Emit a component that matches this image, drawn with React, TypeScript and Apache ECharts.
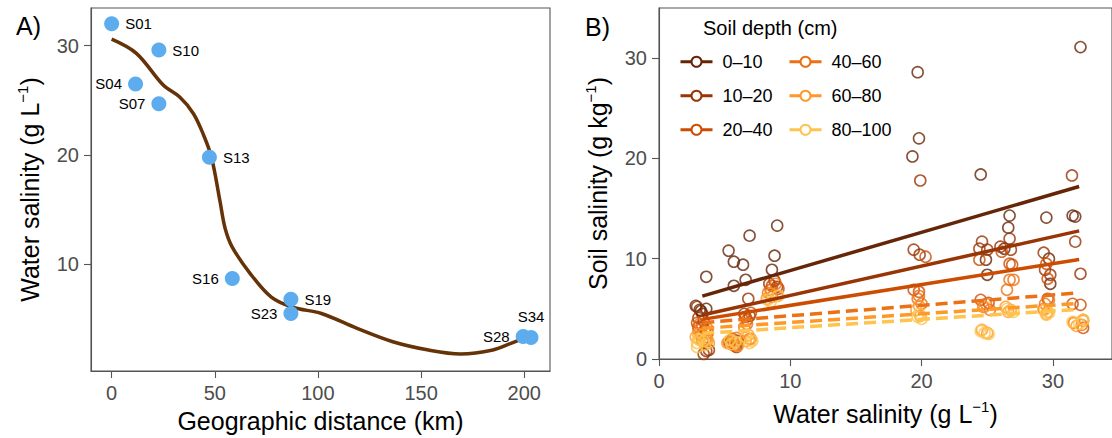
import React, { useEffect, useRef } from "react";
import * as echarts from "echarts";

// ---------- Panel A data ----------
const sites = ["S01", "S04", "S07", "S10", "S13", "S16", "S19", "S23", "S28", "S34"];
const distanceKm = [0, 11.6, 22.9, 22.9, 47.4, 58.5, 86.9, 86.9, 199.5, 203.3];
const waterSalinity = [32.0, 26.5, 24.7, 29.6, 19.8, 8.7, 6.8, 5.5, 3.4, 3.3];
const curveDistance = [0, 12, 25, 33, 39.6, 44.4, 48.4, 52.5, 55, 58.4, 67, 77.4, 87.8, 101.7, 119, 136.3, 153.6, 169.2, 184.8, 193.5, 203.3];
const curveSalinity = [30.6, 29.3, 26.4, 25.3, 23.8, 21.9, 19.8, 15.8, 13.3, 11.6, 9.2, 7.0, 6.07, 5.5, 4.14, 2.92, 2.16, 1.8, 2.16, 2.77, 3.5];
const ticksA_x = [0, 50, 100, 150, 200];
const ticksA_y = [10, 20, 30];

// ---------- Panel B data ----------
const depths = ["0–10", "10–20", "20–40", "40–60", "60–80", "80–100"];
const soil0_10: [number, number][] = [
  [32.1, 31.1], [31.5, 14.3], [31.7, 14.2],
  [26.7, 14.3], [26.6, 13.1], [26.3, 11.0],
  [24.5, 18.4], [24.9, 9.9], [25.0, 8.4],
  [29.5, 14.1], [29.7, 10.0], [29.8, 7.5],
  [19.7, 28.6], [19.8, 22.0], [19.3, 20.2],
  [9.0, 13.3], [8.8, 10.3], [8.6, 8.9],
  [6.9, 12.3], [6.4, 9.4], [6.6, 7.9],
  [5.3, 10.8], [5.7, 9.7], [5.7, 7.3],
  [3.6, 8.2], [3.6, 5.0], [3.2, 4.8],
  [2.8, 5.3], [3.1, 4.9], [3.3, 4.5],
];
const soil10_20: [number, number][] = [
  [31.45, 18.3], [31.7, 11.7], [32.1, 8.5],
  [26.7, 12.0], [26.0, 11.2], [26.8, 10.9],
  [24.4, 11.0], [25.0, 10.9], [24.6, 11.7],
  [29.3, 10.6], [29.4, 8.9], [29.8, 8.4],
  [19.9, 17.8], [19.4, 10.9], [19.85, 10.4],
  [8.4, 7.5], [8.8, 7.8], [9.0, 7.2],
  [6.8, 6.0], [6.5, 4.5], [6.9, 4.3],
  [5.4, 1.6], [5.9, 1.2], [6.0, 1.8],
  [2.9, 5.2], [3.4, 3.8], [3.8, 0.9],
  [3.0, 4.1], [3.4, 0.5], [3.6, 0.8],
];
const soil20_40: [number, number][] = [
  [32.1, 5.4], [31.5, 5.5], [32.3, 3.1],
  [26.1, 10.7], [26.7, 9.5], [26.9, 9.4],
  [24.4, 9.9], [24.5, 5.9], [25.1, 5.6],
  [29.5, 9.5], [29.6, 8.0], [29.6, 6.0],
  [20.3, 10.2], [19.4, 6.9], [19.8, 6.7],
  [8.6, 7.3], [9.1, 7.0], [8.5, 6.9],
  [7.0, 4.6], [6.6, 4.2], [6.7, 3.9],
  [5.5, 1.5], [5.8, 1.3], [5.6, 2.0],
  [3.0, 3.2], [3.5, 2.9], [3.7, 2.6],
  [2.9, 3.6], [3.3, 3.3], [3.2, 2.4],
];
const soil40_60: [number, number][] = [
  [31.6, 3.6], [32.3, 3.9], [32.2, 3.4],
  [26.7, 7.9], [27.0, 7.9], [26.5, 6.9],
  [24.7, 5.2], [25.2, 4.9], [24.9, 5.5],
  [29.7, 5.9], [29.4, 5.5], [29.3, 5.0],
  [19.8, 6.3], [19.7, 6.0], [20.0, 5.5],
  [8.9, 7.5], [8.3, 6.6], [8.6, 6.2],
  [6.7, 3.5], [6.5, 3.2], [6.9, 2.0],
  [5.3, 1.7], [5.7, 1.4], [5.9, 2.1],
  [3.1, 3.5], [3.6, 2.2], [3.3, 1.8],
  [3.0, 2.9], [3.5, 2.7], [3.7, 3.0],
];
const soil60_80: [number, number][] = [
  [32.3, 3.8], [31.6, 3.6], [31.8, 3.3],
  [26.4, 5.2], [26.8, 4.9], [26.6, 4.7],
  [24.6, 2.9], [25.0, 2.6], [24.8, 5.2],
  [29.3, 4.9], [29.6, 4.7], [29.5, 4.5],
  [19.8, 5.3], [19.6, 4.9], [19.9, 4.3],
  [8.5, 6.5], [8.2, 6.0], [9.0, 6.3],
  [7.0, 2.0], [6.6, 1.8], [6.8, 2.4],
  [5.6, 1.8], [5.2, 1.6], [6.0, 1.3],
  [3.0, 2.5], [3.6, 2.0], [3.8, 1.6],
  [2.8, 2.2], [3.3, 2.4], [3.7, 1.9],
];
const soil80_100: [number, number][] = [
  [32.3, 3.9], [31.5, 3.7], [32.0, 3.5],
  [26.5, 5.0], [26.8, 4.8], [27.0, 4.7],
  [24.5, 2.8], [24.8, 2.6], [25.1, 2.5],
  [29.4, 4.9], [29.7, 4.6], [29.5, 4.4],
  [19.8, 4.5], [19.7, 4.2], [20.0, 4.0],
  [8.3, 5.9], [9.1, 6.3], [8.5, 5.7],
  [7.1, 1.8], [6.9, 1.6], [6.6, 2.2],
  [5.4, 1.9], [5.8, 1.7], [5.5, 1.5],
  [3.1, 1.9], [3.5, 1.4], [2.9, 1.2],
  [2.9, 1.6], [3.4, 1.8], [3.0, 2.0],
];
const fit0_10: [number, number][] = [[3.3, 6.27], [32.0, 17.2]];
const fit10_20: [number, number][] = [[3.3, 4.38], [32.0, 12.78]];
const fit20_40: [number, number][] = [[3.3, 3.95], [32.0, 9.93]];
const fit40_60: [number, number][] = [[3.3, 3.62], [32.0, 6.6]];
const fit60_80: [number, number][] = [[3.3, 3.06], [32.0, 5.55]];
const fit80_100: [number, number][] = [[3.3, 2.56], [32.0, 4.95]];
const ticksB_x = [0, 10, 20, 30];
const ticksB_y = [0, 10, 20, 30];

// ---------- styles ----------
const FONT = "'Liberation Sans', Arial, Helvetica, sans-serif";
const depthColors = ["#662506", "#993404", "#cc4c02", "#ec7014", "#fe9929", "#fec44f"];
const depthDashed = [false, false, false, true, true, true];
const labelSide = ["right", "left", "left", "right", "right", "left", "right", "left", "left", "top"];
const AXIS_COLOR = "#555555";
const TICK_LABEL_COLOR = "#4d4d4d";

export default function App() {
  const ref = useRef<HTMLDivElement>(null);

  useEffect(() => {
    if (!ref.current) return;
    const chart = echarts.init(ref.current, undefined, { renderer: "svg" });
    const soilSets = [soil0_10, soil10_20, soil20_40, soil40_60, soil60_80, soil80_100];
    const fitSets = [fit0_10, fit10_20, fit20_40, fit40_60, fit60_80, fit80_100];

    const axisCommon = {
      axisLine: { show: true, onZero: false, lineStyle: { color: AXIS_COLOR, width: 1.1 } },
      axisTick: { show: true, length: 7, lineStyle: { color: AXIS_COLOR, width: 1.1 } },
      splitLine: { show: false },
    };
    const tickLabel = (vals: number[]) => ({
      customValues: vals,
      color: TICK_LABEL_COLOR,
      fontSize: 20,
      fontFamily: FONT,
      margin: 12,
    });
    const nameStyle = {
      fontFamily: FONT,
      color: "#000",
      rich: {
        t: { fontSize: 25, fontFamily: FONT, color: "#000", lineHeight: 30 },
        s: { fontSize: 15, fontFamily: FONT, color: "#000", verticalAlign: "top", lineHeight: 30, padding: [0, 0, 10, 0] },
      },
    };

    const lineSeries = depths.map((d, i) => ({
      name: d,
      type: "line",
      xAxisIndex: 1,
      yAxisIndex: 1,
      data: fitSets[i],
      symbol: "emptyCircle",
      showSymbol: false,
      symbolSize: 10,
      z: 4,
      itemStyle: { color: depthColors[i] },
      lineStyle: { color: depthColors[i], width: 3.5, type: depthDashed[i] ? [12, 6] : "solid" },
      silent: true,
    }));
    const scatterSeries = depths.map((d, i) => ({
      name: d,
      type: "scatter",
      xAxisIndex: 1,
      yAxisIndex: 1,
      data: soilSets[i],
      symbol: "circle",
      symbolSize: 11,
      z: 2,
      itemStyle: { color: "rgba(0,0,0,0)", borderColor: depthColors[i], borderWidth: 1.6 },
      silent: true,
    }));

    const legendCommon = {
      orient: "vertical",
      top: 52.7,
      itemWidth: 32,
      itemHeight: 12.5,
      itemGap: 16,
      padding: 0,
      selectedMode: false,
      lineStyle: { type: "solid", width: 3 },
      textStyle: { fontSize: 18, fontFamily: FONT, color: "#000", padding: [0, 0, 0, 5] },
    };

    chart.setOption({
      animation: false,
      backgroundColor: "#ffffff",
      title: [
        { text: "A)", left: 16, top: 13, padding: 0, textStyle: { fontSize: 25, fontWeight: "normal", fontFamily: FONT, color: "#000" } },
        { text: "B)", left: 585, top: 14, padding: 0, textStyle: { fontSize: 25, fontWeight: "normal", fontFamily: FONT, color: "#000" } },
        { text: "Soil depth (cm)", left: 703, top: 18, padding: 0, textStyle: { fontSize: 20, fontWeight: "normal", fontFamily: FONT, color: "#000" } },
      ],
      legend: [
        { ...legendCommon, left: 679, data: depths.slice(0, 3) },
        { ...legendCommon, left: 788, data: depths.slice(3, 6) },
      ],
      grid: [
        { left: 91, top: 8, width: 459, height: 363, show: true, borderColor: AXIS_COLOR, borderWidth: 1.1, containLabel: false },
        { left: 659, top: 8, width: 453, height: 351, show: true, borderColor: AXIS_COLOR, borderWidth: 1.1, containLabel: false },
      ],
      xAxis: [
        {
          type: "value", gridIndex: 0, min: -10, max: 212.5,
          ...axisCommon,
          axisTick: { ...axisCommon.axisTick, customValues: ticksA_x },
          axisLabel: tickLabel(ticksA_x),
          name: "Geographic distance (km)",
          nameLocation: "middle",
          nameGap: 37,
          nameTextStyle: { fontSize: 25, fontFamily: FONT, color: "#000" },
        },
        {
          type: "value", gridIndex: 1, min: 0, max: 34.5,
          ...axisCommon,
          axisTick: { ...axisCommon.axisTick, customValues: ticksB_x },
          axisLabel: tickLabel(ticksB_x),
          name: "{t|Water salinity (g L}{s|−1}{t|)}",
          nameLocation: "middle",
          nameGap: 40,
          nameTextStyle: nameStyle,
        },
      ],
      yAxis: [
        {
          type: "value", gridIndex: 0, min: 0.24, max: 33.45,
          ...axisCommon,
          axisTick: { ...axisCommon.axisTick, customValues: ticksA_y },
          axisLabel: tickLabel(ticksA_y),
          name: "{t|Water salinity (g L}{s|−1}{t|)}",
          nameLocation: "middle",
          nameRotate: 90,
          nameGap: 46,
          nameTextStyle: nameStyle,
        },
        {
          type: "value", gridIndex: 1, min: 0, max: 35,
          ...axisCommon,
          axisTick: { ...axisCommon.axisTick, customValues: ticksB_y },
          axisLabel: tickLabel(ticksB_y),
          name: "{t|Soil salinity (g kg}{s|−1}{t|)}",
          nameLocation: "middle",
          nameRotate: 90,
          nameGap: 46,
          nameTextStyle: nameStyle,
        },
      ],
      series: [
        {
          type: "line",
          xAxisIndex: 0,
          yAxisIndex: 0,
          data: curveDistance.map((x, i) => [x, curveSalinity[i]]),
          smooth: 0.35,
          showSymbol: false,
          lineStyle: { color: "#653307", width: 3.5 },
          z: 2,
          silent: true,
        },
        {
          type: "scatter",
          xAxisIndex: 0,
          yAxisIndex: 0,
          symbolSize: 15,
          z: 3,
          itemStyle: { color: "#5CACEE", opacity: 1 },
          data: sites.map((s, i) => ({
            value: [distanceKm[i], waterSalinity[i]],
            name: s,
            label: { position: labelSide[i] },
          })),
          label: {
            show: true,
            formatter: "{b}",
            fontSize: 15,
            fontFamily: FONT,
            color: "#000",
            distance: 6,
          },
          silent: true,
        },
        ...lineSeries,
        ...scatterSeries,
      ],
    } as any);

    return () => chart.dispose();
  }, []);

  return (
    <div
      ref={ref}
      style={{ position: "fixed", left: 0, top: 0, width: 1112, height: 438, background: "#fff" }}
    />
  );
}
